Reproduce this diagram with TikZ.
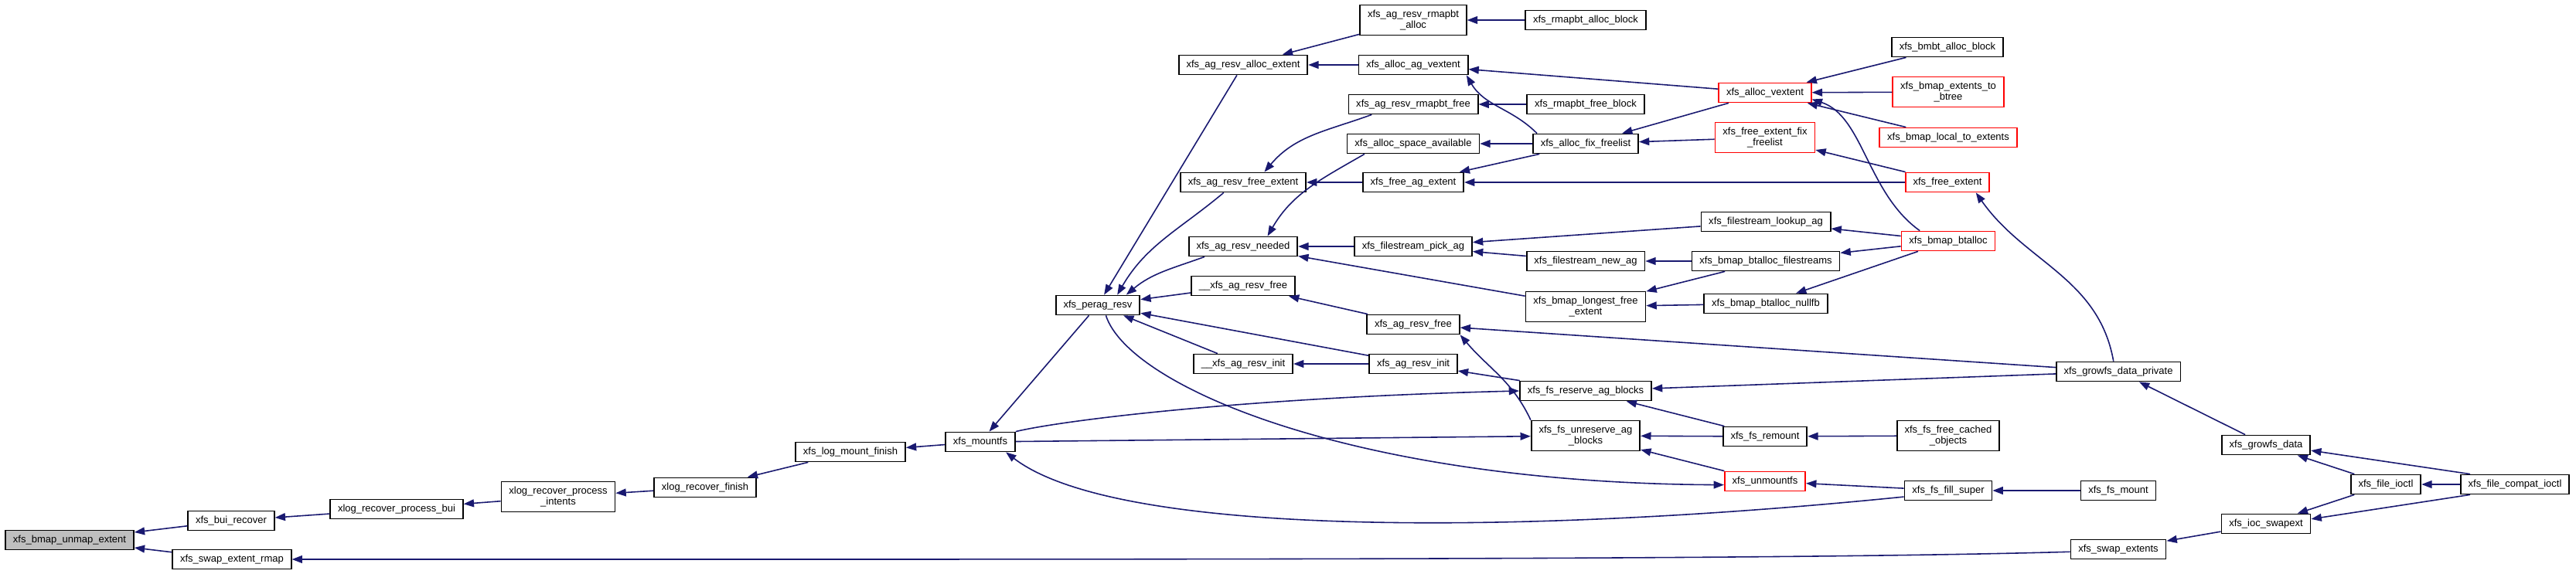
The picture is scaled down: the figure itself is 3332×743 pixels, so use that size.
\documentclass[tikz,border=0pt]{standalone}
\usepackage{fontspec}
\setmainfont{Liberation Sans}
\usetikzlibrary{arrows.meta}
\definecolor{edgeblue}{HTML}{191970}
\definecolor{rootgray}{HTML}{BFBFBF}
\begin{document}
\begin{tikzpicture}[x=0.01cm,y=0.01cm,>={Triangle[length=3.8pt,width=2.8pt]},
  fn/.style={draw=black,line width=0.5pt,fill=white,font=\fontsize{3.7}{4.07}\selectfont,inner xsep=2.8pt,inner ysep=1.8pt,minimum height=0.25cm,align=center},
  trunc/.style={fn,draw=red},
  root/.style={fn,fill=rootgray},
  call/.style={->,draw=edgeblue,line width=0.45pt}]
\useasboundingbox (0,0) rectangle (3332,-743);
\node[root] (unmap) at (90,-699) {xfs\_bmap\_unmap\_extent};
\node[fn] (buirec) at (299,-674) {xfs\_bui\_recover};
\node[fn] (swaprmap) at (300,-724) {xfs\_swap\_extent\_rmap};
\node[fn] (procbui) at (513,-659) {xlog\_recover\_process\_bui};
\node[fn] (procint) at (722,-643) {xlog\_recover\_process\\\_intents};
\node[fn] (recfin) at (912,-631) {xlog\_recover\_finish};
\node[fn] (logmnt) at (1100,-585) {xfs\_log\_mount\_finish};
\node[fn] (mountfs) at (1268,-572) {xfs\_mountfs};
\node[fn] (perag) at (1420,-395) {xfs\_perag\_resv};
\node[fn] (allocext) at (1608,-84) {xfs\_ag\_resv\_alloc\_extent};
\node[fn] (freeext) at (1608,-236) {xfs\_ag\_resv\_free\_extent};
\node[fn] (needed) at (1608,-319) {xfs\_ag\_resv\_needed};
\node[fn] (uagfree) at (1608,-370) {\_\_xfs\_ag\_resv\_free};
\node[fn] (uaginit) at (1608,-471) {\_\_xfs\_ag\_resv\_init};
\node[fn] (rmapalloc) at (1828,-26) {xfs\_ag\_resv\_rmapbt\\\_alloc};
\node[fn] (agvext) at (1828,-84) {xfs\_alloc\_ag\_vextent};
\node[fn] (rmapfree) at (1828,-135) {xfs\_ag\_resv\_rmapbt\_free};
\node[fn] (spaceav) at (1828,-186) {xfs\_alloc\_space\_available};
\node[fn] (freeagext) at (1828,-236) {xfs\_free\_ag\_extent};
\node[fn] (pickag) at (1828,-319) {xfs\_filestream\_pick\_ag};
\node[fn] (agfree) at (1828,-420) {xfs\_ag\_resv\_free};
\node[fn] (aginit) at (1828,-471) {xfs\_ag\_resv\_init};
\node[fn] (rmapallocblk) at (2051,-26) {xfs\_rmapbt\_alloc\_block};
\node[fn] (rmapfreeblk) at (2051,-135) {xfs\_rmapbt\_free\_block};
\node[fn] (fixfree) at (2051,-186) {xfs\_alloc\_fix\_freelist};
\node[fn] (newag) at (2051,-338) {xfs\_filestream\_new\_ag};
\node[fn] (longest) at (2051,-397) {xfs\_bmap\_longest\_free\\\_extent};
\node[fn] (reserve) at (2051,-506) {xfs\_fs\_reserve\_ag\_blocks};
\node[fn] (unreserve) at (2051,-564) {xfs\_fs\_unreserve\_ag\\\_blocks};
\node[trunc] (allocvext) at (2283,-120) {xfs\_alloc\_vextent};
\node[trunc] (efixfree) at (2283,-178) {xfs\_free\_extent\_fix\\\_freelist};
\node[fn] (lookupag) at (2284,-287) {xfs\_filestream\_lookup\_ag};
\node[fn] (filestreams) at (2284,-338) {xfs\_bmap\_btalloc\_filestreams};
\node[fn] (nullfb) at (2284,-393) {xfs\_bmap\_btalloc\_nullfb};
\node[fn] (remount) at (2283,-565) {xfs\_fs\_remount};
\node[trunc] (unmountfs) at (2283,-623) {xfs\_unmountfs};
\node[fn] (bmbtalloc) at (2519,-61) {xfs\_bmbt\_alloc\_block};
\node[trunc] (extbtree) at (2520,-119) {xfs\_bmap\_extents\_to\\\_btree};
\node[trunc] (localext) at (2520,-178) {xfs\_bmap\_local\_to\_extents};
\node[trunc] (freeextent) at (2519,-236) {xfs\_free\_extent};
\node[trunc] (btalloc) at (2520,-312) {xfs\_bmap\_btalloc};
\node[fn] (cached) at (2520,-564) {xfs\_fs\_free\_cached\\\_objects};
\node[fn] (fillsuper) at (2520,-635) {xfs\_fs\_fill\_super};
\node[fn] (growpriv) at (2740,-481) {xfs\_growfs\_data\_private};
\node[fn] (fsmount) at (2740,-635) {xfs\_fs\_mount};
\node[fn] (swapext) at (2740,-711) {xfs\_swap\_extents};
\node[fn] (growdata) at (2931,-576) {xfs\_growfs\_data};
\node[fn] (iocswap) at (2931,-678) {xfs\_ioc\_swapext};
\node[fn] (fileioctl) at (3086,-627) {xfs\_file\_ioctl};
\node[fn] (compat) at (3253,-627) {xfs\_file\_compat\_ioctl};
\draw[call] (buirec)--(unmap);
\draw[call] (swaprmap)--(unmap);
\draw[call] (procbui)--(buirec);
\draw[call] (procint)--(procbui);
\draw[call] (recfin)--(procint);
\draw[call] (logmnt)--(recfin);
\draw[call] (mountfs)--(logmnt);
\draw[call] (perag)--(mountfs);
\draw[call] (allocext)--(perag);
\draw[call] (freeext.208) to[out=-140,in=60] (perag.28);
\draw[call] (needed.195) to[out=-160,in=40] (perag.20);
\draw[call] (uagfree)--(perag);
\draw[call] (uaginit)--(perag);
\draw[call] (aginit)--(perag);
\draw[call] (rmapalloc)--(allocext);
\draw[call] (agvext)--(allocext);
\draw[call] (rmapallocblk)--(rmapalloc);
\draw[call] (allocvext)--(agvext);
\draw[call] (fixfree.168) to[out=135,in=-60] (agvext.-11);
\draw[call] (rmapfreeblk)--(rmapfree);
\draw[call] (rmapfree.194) to[out=-160,in=50] (freeext.26);
\draw[call] (fixfree)--(spaceav);
\draw[call] (spaceav.192) to[out=-150,in=60] (needed.23);
\draw[call] (freeagext)--(freeext);
\draw[call] (fixfree)--(freeagext);
\draw[call] (freeextent)--(freeagext);
\draw[call] (allocvext)--(fixfree);
\draw[call] (efixfree)--(fixfree);
\draw[call] (bmbtalloc)--(allocvext);
\draw[call] (extbtree)--(allocvext);
\draw[call] (localext)--(allocvext);
\draw[call] (btalloc.160) .. controls (2415,-250) and (2410,-150) .. (allocvext.-8);
\draw[call] (freeextent)--(efixfree);
\draw[call] (growpriv.115) to[out=100,in=-55] (freeextent.-20);
\draw[call] (pickag)--(needed);
\draw[call] (longest)--(needed);
\draw[call] (lookupag)--(pickag);
\draw[call] (newag)--(pickag);
\draw[call] (filestreams)--(newag);
\draw[call] (filestreams)--(longest);
\draw[call] (nullfb)--(longest);
\draw[call] (btalloc)--(lookupag);
\draw[call] (btalloc)--(filestreams);
\draw[call] (btalloc)--(nullfb);
\draw[call] (agfree)--(uagfree);
\draw[call] (aginit)--(uaginit);
\draw[call] (growpriv)--(agfree);
\draw[call] (unreserve.north west) to[out=115,in=-50] (agfree.south east);
\draw[call] (reserve)--(aginit);
\draw[call] (growpriv)--(reserve);
\draw[call] (remount)--(reserve);
\draw[call] (mountfs.north east) .. controls (1370,-545) and (1600,-515) .. (reserve.west);
\draw[call] (mountfs)--(unreserve);
\draw[call] (remount)--(unreserve);
\draw[call] (unmountfs)--(unreserve);
\draw[call] (cached)--(remount);
\draw[call] (perag.-52) .. controls (1460,-500) and (1750,-625) .. (unmountfs.185);
\draw[call] (fillsuper)--(unmountfs);
\draw[call] (fillsuper.188) .. controls (2000,-690) and (1450,-700) .. (mountfs.-22);
\draw[call] (fsmount)--(fillsuper);
\draw[call] (growdata)--(growpriv);
\draw[call] (fileioctl)--(growdata);
\draw[call] (compat.167)--(growdata.-7);
\draw[call] (compat)--(fileioctl);
\draw[call] (fileioctl)--(iocswap);
\draw[call] (compat.-167)--(iocswap.6);
\draw[call] (iocswap)--(swapext);
\draw[call] (swapext.183) .. controls (2300,-725) and (1500,-724) .. (swaprmap.east);
\end{tikzpicture}
\end{document}
